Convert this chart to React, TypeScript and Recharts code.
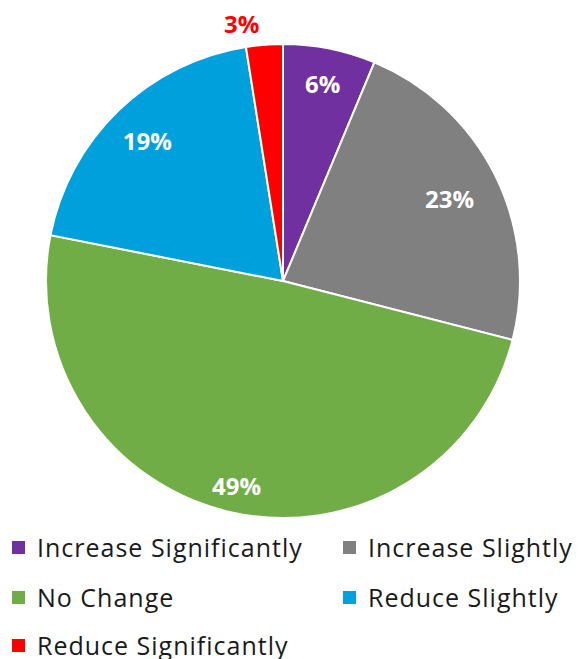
import React from "react";
import { PieChart, Pie, Cell } from "recharts";

const categories = [
  "Increase Significantly",
  "Increase Slightly",
  "No Change",
  "Reduce Slightly",
  "Reduce Significantly",
];
const values = [6.3, 22.7, 49.1, 19.4, 2.5];
const labels = ["6%", "23%", "49%", "19%", "3%"];
const colors = ["#7030A0", "#808080", "#70AD47", "#00A0DD", "#FF0000"];

const data = categories.map((name, i) => ({ name, value: values[i], label: labels[i] }));

const RAD = Math.PI / 180;
// label distance from centre, as a share of the radius (best-fit placement)
const labelDist = [0.85, 0.785, 0.885, 0.825, 1.09];
const labelShiftX = [0, 0, 0, 0, -21];

const renderLabel = (props: any) => {
  const { cx, cy, midAngle, outerRadius, index } = props;
  const outside = labelDist[index] > 1;
  const r = outerRadius * labelDist[index];
  const x = cx + r * Math.cos(-midAngle * RAD) + labelShiftX[index];
  const y = cy + r * Math.sin(-midAngle * RAD);
  return (
    <text
      x={x}
      y={y}
      fill={outside ? "#FF0000" : "#FFFFFF"}
      textAnchor="middle"
      dominantBaseline="central"
      style={{ fontFamily: "'Open Sans', sans-serif", fontWeight: 700, fontSize: 24 }}
    >
      {labels[index]}
    </text>
  );
};

const legendPos = [
  { x: 12, y: 547 },
  { x: 343, y: 547 },
  { x: 12, y: 597 },
  { x: 343, y: 597 },
  { x: 12, y: 645 },
];

export default function App() {
  return (
    <div style={{ position: "absolute", left: 0, top: 0, width: 583, height: 659, background: "#fff", overflow: "hidden" }}>
      <PieChart width={583} height={530} margin={{ top: 0, right: 0, bottom: 0, left: 0 }}>
        <Pie
          data={data}
          dataKey="value"
          nameKey="name"
          cx={283}
          cy={281}
          outerRadius={237}
          startAngle={90}
          endAngle={-270}
          stroke="#FFFFFF"
          strokeWidth={2}
          label={renderLabel}
          labelLine={false}
          isAnimationActive={false}
        >
          {data.map((d, i) => (
            <Cell key={d.name} fill={colors[i]} />
          ))}
        </Pie>
      </PieChart>
      {categories.map((c, i) => (
        <div
          key={c}
          style={{
            position: "absolute",
            left: legendPos[i].x,
            top: legendPos[i].y - 16,
            height: 32,
            display: "flex",
            alignItems: "center",
            fontFamily: "'Open Sans', sans-serif",
            fontSize: 25,
            letterSpacing: 1.0,
            color: "#1a1a1a",
            whiteSpace: "nowrap",
          }}
        >
          <span style={{ display: "inline-block", width: 13, height: 13, background: colors[i], marginRight: 12 }} />
          {c}
        </div>
      ))}
    </div>
  );
}
